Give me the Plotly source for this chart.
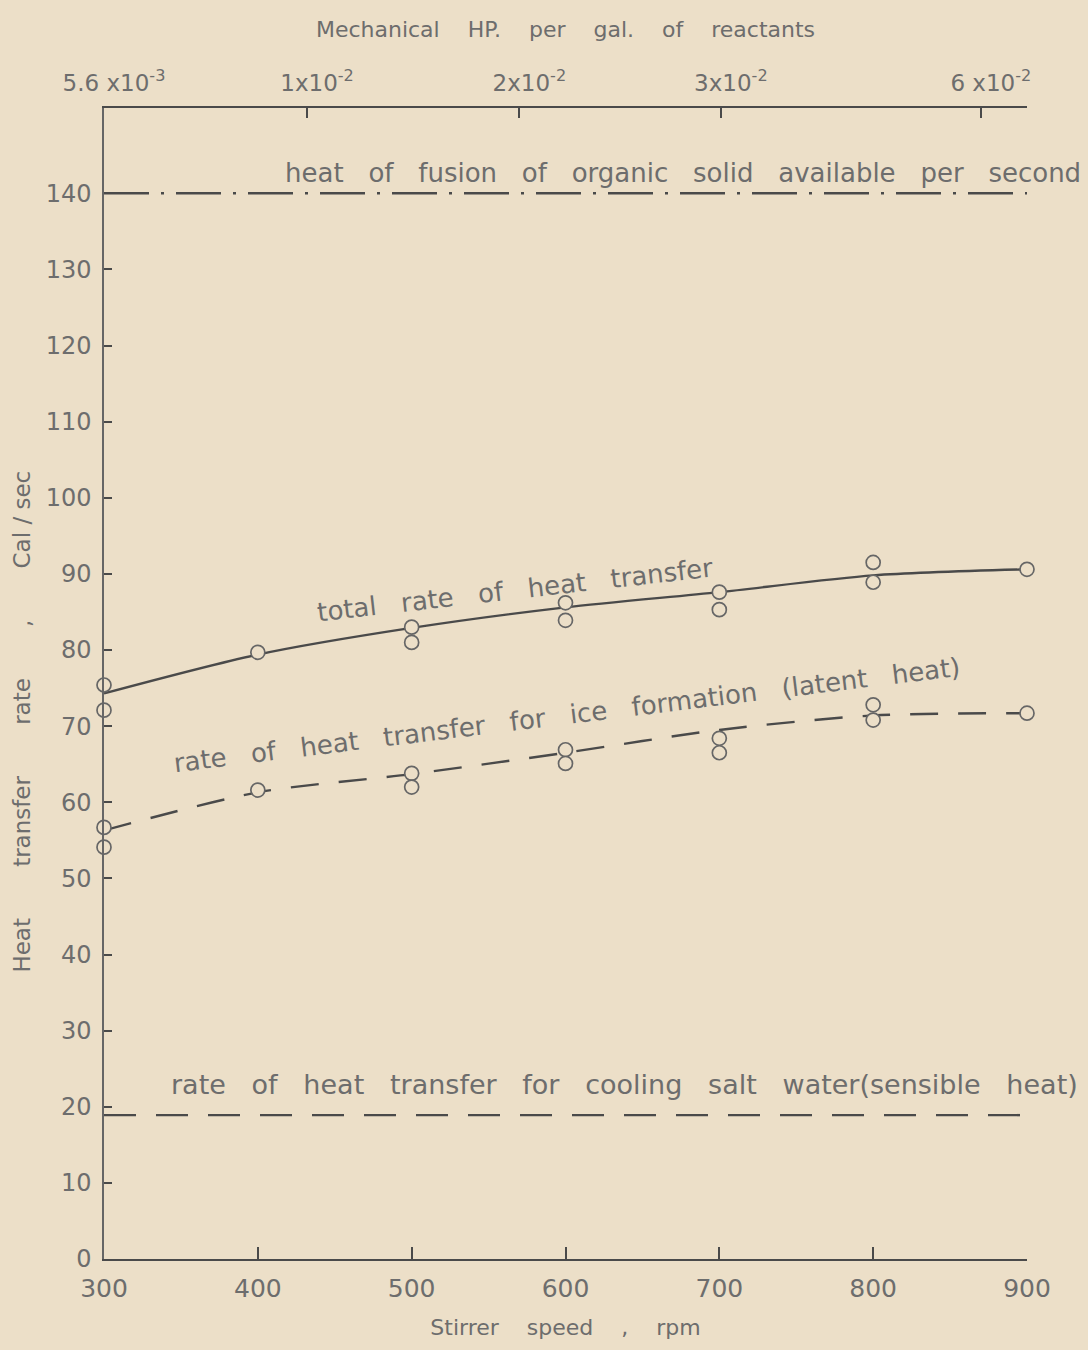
import plotly.graph_objects as go

# Stirrer speeds (rpm) and measured heat transfer rates (cal/sec)
rpm = [300, 400, 500, 600, 700, 800, 900]
total_run_a = [75.4, 79.7, 83.0, 86.2, 87.6, 91.5, 90.6]
total_run_b = [72.1, None, 81.0, 83.9, 85.3, 88.9, None]
total_curve = [74.3, 79.4, 82.9, 85.6, 87.6, 89.8, 90.6]

latent_run_a = [56.7, 61.6, 63.8, 66.9, 68.4, 72.8, 71.7]
latent_run_b = [54.1, None, 62.0, 65.1, 66.5, 70.8, None]
latent_curve = [56.3, 61.3, 63.7, 66.5, 69.5, 71.4, 71.7]

fusion_heat = 140.0      # heat of fusion of organic solid available per second
sensible_heat = 18.9     # heat transfer for cooling salt water

x_ticks = [300, 400, 500, 600, 700, 800, 900]
y_ticks = list(range(0, 141, 10))

# Mechanical HP per gallon scale (top axis) at the corresponding stirrer speeds
hp_tick_rpm = [300, 432, 570, 701, 870]
hp_tick_labels = ["5.6 x10<sup>-3</sup>", "1x10<sup>-2</sup>", "2x10<sup>-2</sup>",
                  "3x10<sup>-2</sup>", "6 x10<sup>-2</sup>"]

BG = "#ecdfc8"
INK = "#4a4a4a"
TXT = "#6d6d6d"
FONT = "DejaVu Sans"


def spaced(s, n=3):
    return s.replace(" ", "\u00a0" * n)


fig = go.Figure()

# reference levels
fig.add_trace(go.Scatter(x=[x_ticks[0], x_ticks[-1]], y=[fusion_heat, fusion_heat], mode="lines",
                         line=dict(color=INK, width=2.4, dash="45px,12px,3px,12px"),
                         showlegend=False, hoverinfo="skip"))
fig.add_trace(go.Scatter(x=[x_ticks[0], x_ticks[-1]], y=[sensible_heat, sensible_heat], mode="lines",
                         line=dict(color=INK, width=2.4, dash="32px,20px"),
                         showlegend=False, hoverinfo="skip"))

# fitted curves
fig.add_trace(go.Scatter(x=rpm, y=total_curve, mode="lines",
                         line=dict(color=INK, width=2.4, shape="spline", smoothing=0.8),
                         showlegend=False, hoverinfo="skip"))
fig.add_trace(go.Scatter(x=rpm, y=latent_curve, mode="lines",
                         line=dict(color=INK, width=2.4, shape="spline", smoothing=0.8, dash="28px,20px"),
                         showlegend=False, hoverinfo="skip"))

# measured points
marker = dict(symbol="circle", size=14, color=BG, line=dict(color="#666666", width=1.7))
for series in (total_run_a, total_run_b, latent_run_a, latent_run_b):
    fig.add_trace(go.Scatter(x=rpm, y=series, mode="markers", marker=marker,
                             showlegend=False, cliponaxis=False))

# invisible trace that activates the top (HP) axis
fig.add_trace(go.Scatter(x=[300, 900], y=[None, None], xaxis="x2", mode="lines",
                         showlegend=False, hoverinfo="skip"))

annot_font = dict(family=FONT, size=26, color=TXT)
fig.add_annotation(x=1.0607, y=142.7, xref="paper", yref="y", xanchor="right", yanchor="middle",
                   text=spaced("heat of fusion of organic solid available per second"),
                   showarrow=False, font=annot_font)
fig.add_annotation(x=1.0574, y=22.9, xref="paper", yref="y", xanchor="right", yanchor="middle",
                   text=spaced("rate of heat transfer for cooling salt water(sensible heat)"),
                   showarrow=False, font=dict(family=FONT, size=27, color=TXT))
fig.add_annotation(x=567, y=87.9, xref="x", yref="y", xanchor="center", yanchor="middle",
                   text=spaced("total rate of heat transfer"), textangle=-6.5,
                   showarrow=False, font=annot_font)
fig.add_annotation(x=601, y=71.4, xref="x", yref="y", xanchor="center", yanchor="middle",
                   text=spaced("rate of heat transfer for ice formation (latent heat)"), textangle=-7,
                   showarrow=False, font=annot_font)

# vertical axis caption
big_gap = "\u00a0" * 7
y_caption = big_gap.join(["Heat", "transfer", "rate", ",", "Cal\u00a0/\u00a0sec"])
fig.add_annotation(x=-0.0888, y=70.6, xref="paper", yref="y", xanchor="center", yanchor="middle",
                   text=y_caption, textangle=-90, showarrow=False,
                   font=dict(family=FONT, size=23, color=TXT))

fig.update_layout(
    width=1088, height=1350,
    margin=dict(l=104, r=61, t=108, b=91),
    paper_bgcolor=BG, plot_bgcolor=BG,
    showlegend=False,
    xaxis=dict(range=[300, 900], tickvals=x_ticks, ticks="inside", ticklen=12, tickwidth=1.5,
               tickcolor=INK, showline=True, linecolor=INK, linewidth=2.2, showgrid=False,
               zeroline=False, tickfont=dict(family=FONT, size=25, color=TXT),
               ticklabelstandoff=6,
               title=dict(text=spaced("Stirrer speed , rpm", 4), standoff=18,
                          font=dict(family=FONT, size=22, color=TXT))),
    xaxis2=dict(range=[300, 900], overlaying="x", side="top", anchor="y",
                tickvals=hp_tick_rpm, ticktext=hp_tick_labels, ticks="inside", ticklen=10,
                tickwidth=1.5, tickcolor=INK, showline=True, linecolor=INK, linewidth=2.2,
                showgrid=False, zeroline=False, ticklabelshift=10, ticklabelstandoff=6,
                tickfont=dict(family=FONT, size=23, color=TXT),
                title=dict(text=spaced("Mechanical HP. per gal. of reactants", 4), standoff=22,
                           font=dict(family=FONT, size=22, color=TXT))),
    yaxis=dict(range=[0, 151.2], tickvals=y_ticks, ticks="inside", ticklen=8, tickwidth=1.5,
               tickcolor=INK, showline=True, linecolor="#666666", linewidth=1.5, showgrid=False,
               zeroline=False, tickfont=dict(family=FONT, size=24, color=TXT),
               ticklabelstandoff=6),
)

fig.write_html("out.html")
